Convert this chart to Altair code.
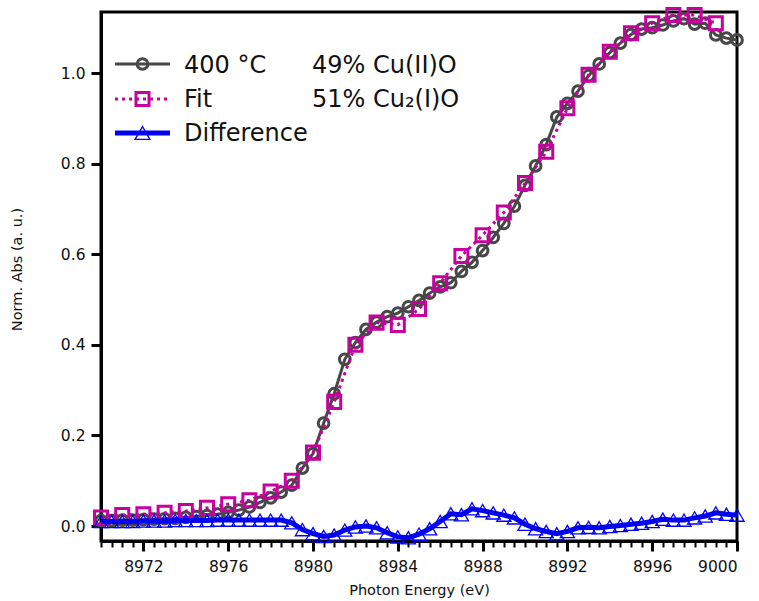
import altair as alt
import pandas as pd

# ---------------- data ----------------
energy = [8970 + 0.5 * i for i in range(61)]
data_abs = [0.012, 0.012, 0.013, 0.013, 0.014, 0.015, 0.016, 0.017, 0.019, 0.021,
            0.023, 0.026, 0.030, 0.035, 0.042, 0.052, 0.062, 0.075, 0.090, 0.128,
            0.160, 0.227, 0.292, 0.368, 0.405, 0.434, 0.450, 0.462, 0.470, 0.484,
            0.498, 0.514, 0.528, 0.537, 0.562, 0.582, 0.608, 0.637, 0.668, 0.706,
            0.752, 0.795, 0.842, 0.903, 0.933, 0.960, 0.994, 1.020, 1.045, 1.066,
            1.085, 1.097, 1.100, 1.106, 1.115, 1.120, 1.108, 1.110, 1.084, 1.077,
            1.073]
diff_abs = [0.010, 0.010, 0.010, 0.010, 0.011, 0.011, 0.011, 0.012, 0.012, 0.012,
            0.012, 0.013, 0.013, 0.013, 0.013, 0.013, 0.013, 0.013, 0.007, -0.008,
            -0.017, -0.023, -0.020, -0.009, -0.002, 0.000, -0.004, -0.015, -0.024, -0.026,
            -0.018, -0.006, 0.010, 0.027, 0.025, 0.038, 0.034, 0.029, 0.024, 0.018,
            0.004, -0.006, -0.012, -0.017, -0.012, -0.004, -0.003, -0.004, -0.001, 0.001,
            0.004, 0.006, 0.010, 0.015, 0.013, 0.013, 0.018, 0.022, 0.029, 0.026,
            0.024]
fit_energy = [8970 + i for i in range(30)]
fit_abs = [0.019, 0.024, 0.026, 0.029, 0.033, 0.040, 0.048, 0.057, 0.076, 0.100,
           0.162, 0.274, 0.400, 0.449, 0.444, 0.479, 0.536, 0.596, 0.642, 0.692,
           0.757, 0.826, 0.922, 0.996, 1.047, 1.088, 1.110, 1.128, 1.128, 1.110]

major_ticks = [8972, 8976, 8980, 8984, 8988, 8992, 8996, 9000]
minor_ticks = [8970 + 0.5 * i for i in range(61)]
y_ticks = [0.0, 0.2, 0.4, 0.6, 0.8, 1.0]

legend_labels = ["400 \u00b0C", "Fit", "Difference"]
legend_notes = ["49% Cu(II)O", "51% Cu\u2082(I)O"]

GRAY = "#474747"
MAG = "#c8009f"
BLUE = "#0000f5"
FONT = "DejaVu Sans"
TXT = "#111111"

df = pd.DataFrame({"E": energy, "data": data_abs, "diff": diff_abs})
dff = pd.DataFrame({"E": fit_energy, "fit": fit_abs})

xscale = alt.Scale(domain=[8970, 9000], nice=False, zero=False)
yscale = alt.Scale(domain=[-0.0331, 1.1347], nice=False, zero=False)

x_major = alt.X("E:Q", scale=xscale,
                axis=alt.Axis(values=major_ticks, format="d", tickSize=10, tickWidth=3,
                              labelPadding=8, labelFont=FONT, labelFontSize=15.5,
                              labelColor=TXT, title="Photon Energy (eV)", titleFont=FONT,
                              titleFontSize=14.5, titleFontWeight="normal", titleColor=TXT,
                              titlePadding=9, orient="bottom"))
x_minor = alt.X("E:Q", scale=xscale,
                axis=alt.Axis(values=minor_ticks, tickSize=6, tickWidth=2, labels=False,
                              domain=False, title=None, orient="bottom"))
x_none = alt.X("E:Q", scale=xscale, axis=None)

y_axis = alt.Axis(values=y_ticks, format=".1f", tickSize=10, tickWidth=3, labelPadding=6,
                  labelFont=FONT, labelFontSize=15.5, labelColor=TXT,
                  title="Norm. Abs (a. u.)", titleFont=FONT, titleFontSize=14.5,
                  titleFontWeight="normal", titleColor=TXT, titlePadding=36,
                  titleY=257, orient="left")

data_line = alt.Chart(df).mark_line(color=GRAY, strokeWidth=3).encode(
    x=x_major, y=alt.Y("data:Q", scale=yscale, axis=y_axis))
data_pts = alt.Chart(df).mark_point(shape="circle", filled=False, color=GRAY,
                                    size=115, strokeWidth=3, opacity=1).encode(
    x=x_minor, y=alt.Y("data:Q", scale=yscale, axis=None))

fit_line = alt.Chart(dff).mark_line(color=MAG, strokeWidth=3, strokeDash=[3, 4]).encode(
    x=x_none, y=alt.Y("fit:Q", scale=yscale, axis=None))
fit_pts = alt.Chart(dff).mark_point(shape="square", filled=False, color=MAG,
                                    size=170, strokeWidth=3, opacity=1).encode(
    x=x_none, y=alt.Y("fit:Q", scale=yscale, axis=None))

diff_line = alt.Chart(df).mark_line(color=BLUE, strokeWidth=5).encode(
    x=x_none, y=alt.Y("diff:Q", scale=yscale, axis=None))
diff_pts = alt.Chart(df).mark_point(shape="triangle-up", filled=False, color=BLUE,
                                    size=200, strokeWidth=1.3, opacity=1).encode(
    x=x_none, y=alt.Y("diff:Q", scale=yscale, axis=None))

# ---------------- legend (pixel space, relative to plot origin) ----------------
one = alt.Data(values=[{"k": 1}])
OX, OY = 101, 12
rows_y = [64 - OY, 99 - OY, 133 - OY]
base_y = [73 - OY, 107 - OY, 141 - OY]
seg_x0, seg_x1, sym_x = 115 - OX, 170 - OX, 142.5 - OX
text_x1, text_x2 = 184 - OX, 312 - OX


def seg(y, color, width, dash=None):
    kw = dict(color=color, strokeWidth=width)
    if dash:
        kw["strokeDash"] = dash
    return alt.Chart(one).mark_rule(**kw).encode(
        x=alt.value(seg_x0), x2=alt.value(seg_x1), y=alt.value(y))


def sym(y, shape, color, size, width):
    return alt.Chart(one).mark_point(shape=shape, filled=False, color=color, size=size,
                                     strokeWidth=width, opacity=1).encode(
        x=alt.value(sym_x), y=alt.value(y))


def txt(x, y, s):
    return alt.Chart(one).mark_text(align="left", baseline="alphabetic", font=FONT,
                                    fontSize=24, color=TXT).encode(
        x=alt.value(x), y=alt.value(y), text=alt.value(s))


legend = [
    seg(rows_y[0], GRAY, 3), sym(rows_y[0], "circle", GRAY, 115, 3),
    seg(rows_y[1], MAG, 3, [3, 4]), sym(rows_y[1], "square", MAG, 170, 3),
    seg(rows_y[2], BLUE, 5), sym(rows_y[2], "triangle-up", BLUE, 220, 1.3),
    txt(text_x1, base_y[0], legend_labels[0]), txt(text_x1, base_y[1], legend_labels[1]),
    txt(text_x1, base_y[2], legend_labels[2]),
    txt(text_x2, base_y[0], legend_notes[0]), txt(text_x2, base_y[1], legend_notes[1]),
]

chart = alt.layer(data_line, data_pts, fit_line, fit_pts, diff_line, diff_pts, *legend).resolve_axis(
    x="independent", y="independent"
).properties(
    width=636, height=529,
    autosize=alt.AutoSizeParams(type="none"),
    padding={"left": 101, "top": 12, "right": 22, "bottom": 60},
    background="white",
).configure_view(stroke="black", strokeWidth=3).configure_axis(
    domainColor="black", domainWidth=3, tickColor="black", grid=False,
)

chart.save("out.html", embed_options={"renderer": "svg", "actions": False})
